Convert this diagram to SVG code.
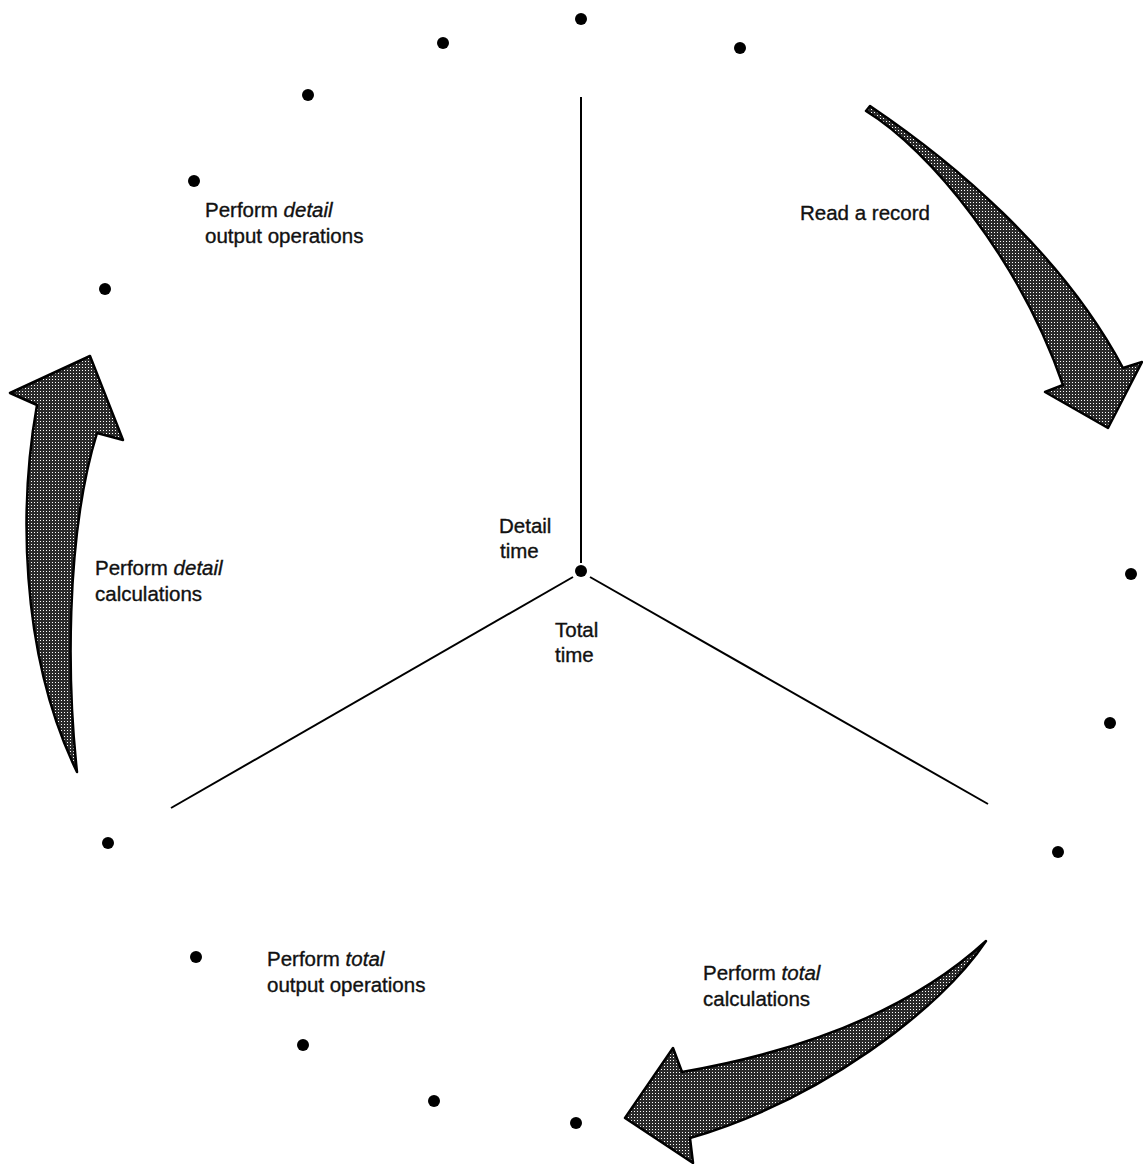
<svg xmlns="http://www.w3.org/2000/svg" width="1143" height="1164" viewBox="0 0 1143 1164">
<defs>
<pattern id="hatch" width="3" height="3" patternUnits="userSpaceOnUse">
<rect width="3" height="3" fill="#2a2a2a"/>
<rect x="1" y="1" width="1" height="1" fill="#ffffff"/>
</pattern>
</defs>
<style>
.lbl{font-family:"Liberation Sans",Arial,sans-serif;font-size:20.5px;fill:#111;stroke:#111;stroke-width:0.35}
.dot{fill:#000}
.ln{stroke:#000;stroke-width:2;fill:none}
.arr{fill:url(#hatch);stroke:#000;stroke-width:2.5;stroke-linejoin:round}
</style>
<rect width="1143" height="1164" fill="#fff"/>
<g id="connectors">
<line class="ln" x1="581" y1="97" x2="581" y2="563"/>
<line class="ln" x1="573" y1="577" x2="171" y2="808"/>
<line class="ln" x1="590" y1="577" x2="988" y2="804"/>
<path id="arrow-read" class="arr" d="M870,106 C950,160 1060,250 1123,368 L1142,362 L1108,428 L1045,392 L1063,385 C1020,260 930,150 866,111 Z"/>
<path id="arrow-detail-calc" class="arr" d="M77,772 C68,690 64,540 97,433 L123,440 L90,356 L10,393 L37,405 C20,500 18,650 77,772 Z"/>
<path id="arrow-total-calc" class="arr" d="M986,941 C940,1010 820,1100 690,1138 L693,1163 L625,1118 L673,1048 L682,1072 C780,1055 900,1020 986,941 Z"/>
</g>
<g id="center"><circle class="dot" cx="581" cy="571" r="6"/></g>
<g id="dots">
<circle class="dot" cx="581" cy="19" r="6"/>
<circle class="dot" cx="443" cy="43" r="6"/>
<circle class="dot" cx="740" cy="48" r="6"/>
<circle class="dot" cx="308" cy="95" r="6"/>
<circle class="dot" cx="194" cy="181" r="6"/>
<circle class="dot" cx="105" cy="289" r="6"/>
<circle class="dot" cx="1131" cy="574" r="6"/>
<circle class="dot" cx="1110" cy="723" r="6"/>
<circle class="dot" cx="1058" cy="852" r="6"/>
<circle class="dot" cx="108" cy="843" r="6"/>
<circle class="dot" cx="196" cy="957" r="6"/>
<circle class="dot" cx="303" cy="1045" r="6"/>
<circle class="dot" cx="434" cy="1101" r="6"/>
<circle class="dot" cx="576" cy="1123" r="6"/>
</g>
<g id="label-read"><text class="lbl" x="800" y="220">Read a record</text></g>
<g id="label-detail-output"><text class="lbl" x="205" y="217">Perform <tspan font-style="italic">detail</tspan></text><text class="lbl" x="205" y="243">output operations</text></g>
<g id="label-detail-calc"><text class="lbl" x="95" y="575">Perform <tspan font-style="italic">detail</tspan></text><text class="lbl" x="95" y="601">calculations</text></g>
<g id="label-detail-time"><text class="lbl" x="499" y="533">Detail</text><text class="lbl" x="500" y="558">time</text></g>
<g id="label-total-time"><text class="lbl" x="555" y="637">Total</text><text class="lbl" x="555" y="662">time</text></g>
<g id="label-total-output"><text class="lbl" x="267" y="966">Perform <tspan font-style="italic">total</tspan></text><text class="lbl" x="267" y="992">output operations</text></g>
<g id="label-total-calc"><text class="lbl" x="703" y="980">Perform <tspan font-style="italic">total</tspan></text><text class="lbl" x="703" y="1006">calculations</text></g>
</svg>
